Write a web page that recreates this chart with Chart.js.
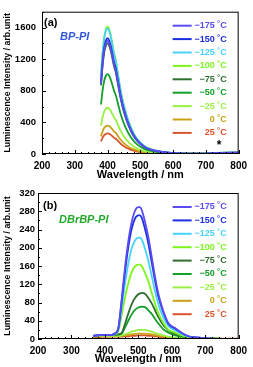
<!DOCTYPE html>
<html>
<head>
<meta charset="utf-8">
<script src="https://cdn.jsdelivr.net/npm/chart.js@4.4.1/dist/chart.umd.min.js"></script>
<style>
  html, body { margin: 0; padding: 0; background: #fff; }
  canvas { display: block; }
</style>
</head>
<body>
<canvas id="chartA" width="253" height="183"></canvas>
<canvas id="chartB" width="253" height="184"></canvas>
<script>
// legend entries (same for both panels)
const tempLabels = ['\u2212175 \u02DAC', '\u2212150 \u02DAC', '\u2212125 \u02DAC', '\u2212100 \u02DAC', '\u221275 \u02DAC', '\u221250 \u02DAC', '\u221225 \u02DAC', '0 \u02DAC', '25 \u02DAC'];
const tempColors = ['#5a4cf2', '#1c2fe0', '#48d2fa', '#7cf51c', '#2f6e2f', '#12a02a', '#98f040', '#c9a214', '#d8552c'];

// (a) BP-PI
const wavelengthsA = [380, 385, 390, 395, 400, 405, 410, 415, 420, 425, 430, 440, 450, 465, 480, 490, 500, 520, 550, 600, 650, 700, 750, 800];
const a175 = [887, 1144, 1316, 1401, 1430, 1401, 1330, 1230, 1130, 1058, 944, 715, 543, 358, 229, 172, 129, 72, 36, 11, 6, 6, 14, 17];
const a150 = [908, 1172, 1348, 1436, 1465, 1436, 1362, 1260, 1157, 1084, 967, 733, 557, 366, 234, 176, 132, 73, 37, 12, 6, 6, 15, 18];
const a125 = [986, 1272, 1463, 1558, 1590, 1558, 1479, 1367, 1256, 1177, 1049, 795, 604, 398, 254, 191, 143, 80, 40, 13, 6, 6, 16, 19];
const a100 = [998, 1288, 1481, 1578, 1610, 1578, 1497, 1385, 1272, 1191, 1063, 805, 612, 403, 258, 193, 145, 81, 40, 13, 6, 6, 16, 19];
const a75 = [868, 1120, 1288, 1372, 1400, 1372, 1302, 1204, 1106, 1036, 924, 700, 532, 350, 224, 168, 126, 70, 35, 11, 6, 6, 14, 17];
const a50 = [626, 808, 929, 990, 1010, 990, 939, 869, 798, 747, 667, 505, 384, 253, 162, 121, 91, 51, 25, 8, 4, 4, 10, 12];
const a25m = [363, 468, 538, 573, 585, 573, 544, 503, 462, 433, 386, 293, 222, 146, 94, 70, 53, 29, 15, 5, 2, 2, 6, 7];
const a0 = [223, 288, 331, 353, 360, 353, 335, 310, 284, 266, 238, 180, 137, 90, 58, 43, 32, 18, 9, 3, 1, 1, 4, 4];
const a25 = [161, 208, 239, 255, 260, 255, 242, 224, 205, 192, 172, 130, 99, 65, 42, 31, 23, 13, 7, 2, 1, 1, 3, 3];

// (b) DBrBP-PI
const wavelengthsB = [365, 380, 400, 420, 430, 440, 450, 460, 470, 480, 490, 500, 505, 510, 520, 530, 540, 550, 560, 575, 590, 610, 630, 650, 680, 720, 760, 800];
const b175 = [7, 8, 9, 9, 12, 23, 86, 156, 214, 256, 281, 289, 289, 283, 257, 223, 180, 136, 99, 61, 35, 24, 13, 6, 3, 1, 0, 0];
const b150 = [7, 8, 9, 9, 12, 23, 81, 146, 201, 241, 264, 271, 271, 266, 241, 209, 168, 128, 93, 58, 33, 23, 13, 6, 3, 1, 0, 0];
const b125 = [7, 8, 9, 9, 11, 20, 68, 121, 165, 198, 216, 222, 222, 218, 198, 171, 138, 105, 76, 47, 28, 19, 11, 5, 3, 1, 0, 0];
const b100 = [7, 8, 9, 9, 10, 17, 52, 90, 122, 146, 159, 163, 163, 160, 145, 126, 101, 77, 56, 35, 20, 14, 8, 4, 2, 1, 0, 0];
const b75 = [7, 8, 9, 9, 9, 10, 13, 33, 56, 76, 90, 98, 100, 101, 99, 90, 78, 63, 48, 30, 19, 11, 7, 4, 2, 1, 0, 0];
const b50 = [7, 8, 9, 9, 9, 10, 12, 25, 40, 54, 64, 69, 70, 71, 70, 63, 55, 44, 34, 21, 14, 8, 5, 3, 1, 1, 0, 0];
const b25m = [6, 7, 7, 7, 7, 7, 8, 10, 13, 16, 18, 20, 20, 20, 20, 18, 16, 13, 11, 8, 5, 3, 2, 1, 1, 0, 0, 0];
const b0 = [5, 6, 6, 6, 6, 6, 7, 8, 9, 10, 11, 12, 12, 12, 12, 11, 10, 9, 7, 5, 4, 2, 1, 1, 0, 0, 0, 0];
const b25 = [4, 4, 5, 5, 5, 5, 5, 6, 6, 7, 7, 8, 8, 8, 8, 7, 7, 6, 5, 4, 3, 2, 1, 1, 1, 1, 1, 1];

const FONT = "'Liberation Sans', Arial, sans-serif";

function decorPlugin(cfg) {
  return {
    id: 'decor',
    afterDraw(chart) {
      const { ctx, chartArea: a, scales: { x, y } } = chart;
      ctx.save();
      // frame + inward ticks
      ctx.strokeStyle = '#000';
      ctx.lineWidth = 1;
      ctx.strokeRect(a.left + 0.5, a.top + 0.5, a.right - a.left - 1, a.bottom - a.top - 1);
      ctx.beginPath();
      for (let v = 200; v <= 800; v += 20) {
        const px = Math.round(x.getPixelForValue(v)) + 0.5;
        const len = v % 100 === 0 ? 4 : 2;
        ctx.moveTo(px, a.bottom); ctx.lineTo(px, a.bottom - len);
      }
      for (let v = 0; v <= y.max; v += cfg.yMinor) {
        const py = Math.round(y.getPixelForValue(v)) + 0.5;
        const len = v % cfg.yMajor === 0 ? 4 : 2;
        ctx.moveTo(a.left, py); ctx.lineTo(a.left + len, py);
      }
      ctx.stroke();

      // legend, right-aligned labels
      ctx.textBaseline = 'middle';
      ctx.font = 'bold 9px ' + FONT;
      chart.data.datasets.forEach((ds, i) => {
        const ry = a.top + cfg.legendTop + i * 13.4;
        ctx.strokeStyle = ds.borderColor;
        ctx.lineWidth = 2;
        ctx.beginPath();
        ctx.moveTo(a.right - 66, ry); ctx.lineTo(a.right - 47, ry);
        ctx.stroke();
        ctx.fillStyle = ds.borderColor;
        ctx.textAlign = 'right';
        ctx.fillText(ds.label, a.right - 12, ry);
      });

      // panel tag and sample name
      ctx.textAlign = 'left';
      ctx.fillStyle = '#000';
      ctx.font = 'bold 11px ' + FONT;
      ctx.fillText(cfg.tag, a.left + cfg.tagX, a.top + cfg.tagY);
      ctx.fillStyle = cfg.nameColor;
      ctx.font = 'italic bold 11px ' + FONT;
      ctx.fillText(cfg.name, a.left + cfg.nameX, a.top + cfg.nameY);

      if (cfg.star) {
        ctx.fillStyle = '#000';
        ctx.font = 'bold 12px ' + FONT;
        ctx.textAlign = 'center';
        ctx.fillText('*', x.getPixelForValue(cfg.star), a.bottom - 8);
      }
      ctx.restore();
    }
  };
}

function buildPanel(canvasId, wl, series, yMax, yStep, yWidth, yPad, xHeight, topPad, cfg) {
  const datasets = series.map((vals, i) => ({
    label: tempLabels[i],
    data: wl.map((w, j) => ({ x: w, y: vals[j] })),
    borderColor: tempColors[i],
    backgroundColor: tempColors[i],
    borderWidth: 1.8,
    pointRadius: 0,
    tension: 0.4,
    cubicInterpolationMode: 'monotone',
    fill: false
  }));
  return new Chart(document.getElementById(canvasId), {
    type: 'line',
    data: { datasets },
    options: {
      responsive: false,
      animation: false,
      devicePixelRatio: 1,
      layout: { padding: { top: topPad, right: 8, left: 0, bottom: 0 } },
      plugins: { legend: { display: false }, tooltip: { enabled: false } },
      scales: {
        x: {
          type: 'linear', min: 200, max: 800,
          afterFit: s => { s.height = xHeight; },
          grid: { display: false, drawTicks: false },
          border: { display: false },
          ticks: { stepSize: 100, padding: 6, color: '#000', callback: v => String(v), font: { family: FONT, size: 10, weight: 'bold' }, maxRotation: 0 },
          title: { display: true, text: 'Wavelength / nm', color: '#000', padding: { top: 0, bottom: 1 }, font: { family: FONT, size: 11, weight: 'bold' } }
        },
        y: {
          min: 0, max: yMax,
          afterFit: s => { s.width = yWidth; },
          afterBuildTicks: s => { s.ticks = s.ticks.filter(t => t.value % yStep === 0); },
          grid: { display: false, drawTicks: false },
          border: { display: false },
          ticks: { stepSize: yStep, padding: yPad, color: '#000', callback: v => String(v), font: { family: FONT, size: 9.5, weight: 'bold' } },
          title: { display: true, text: 'Luminescence Intensity / arb.unit', color: '#000', padding: { top: 2, bottom: 0 }, font: { family: FONT, size: 8.8, weight: 'bold' } }
        }
      }
    },
    plugins: [decorPlugin(cfg)]
  });
}

buildPanel('chartA', wavelengthsA, [a175, a150, a125, a100, a75, a50, a25m, a0, a25], 1800, 400, 42, 6, 29, 8,
  { yMinor: 200, yMajor: 400, legendTop: 14, tag: '(a)', tagX: 2, tagY: 11, name: 'BP-PI', nameColor: '#2f55e0', nameX: 18, nameY: 25, star: 740 });

buildPanel('chartB', wavelengthsB, [b175, b150, b125, b100, b75, b50, b25m, b0, b25], 320, 40, 38, 3, 28, 10,
  { yMinor: 20, yMajor: 40, legendTop: 14, tag: '(b)', tagX: 5, tagY: 13, name: 'DBrBP-PI', nameColor: '#22a82a', nameX: 21, nameY: 27 });
</script>
</body>
</html>
